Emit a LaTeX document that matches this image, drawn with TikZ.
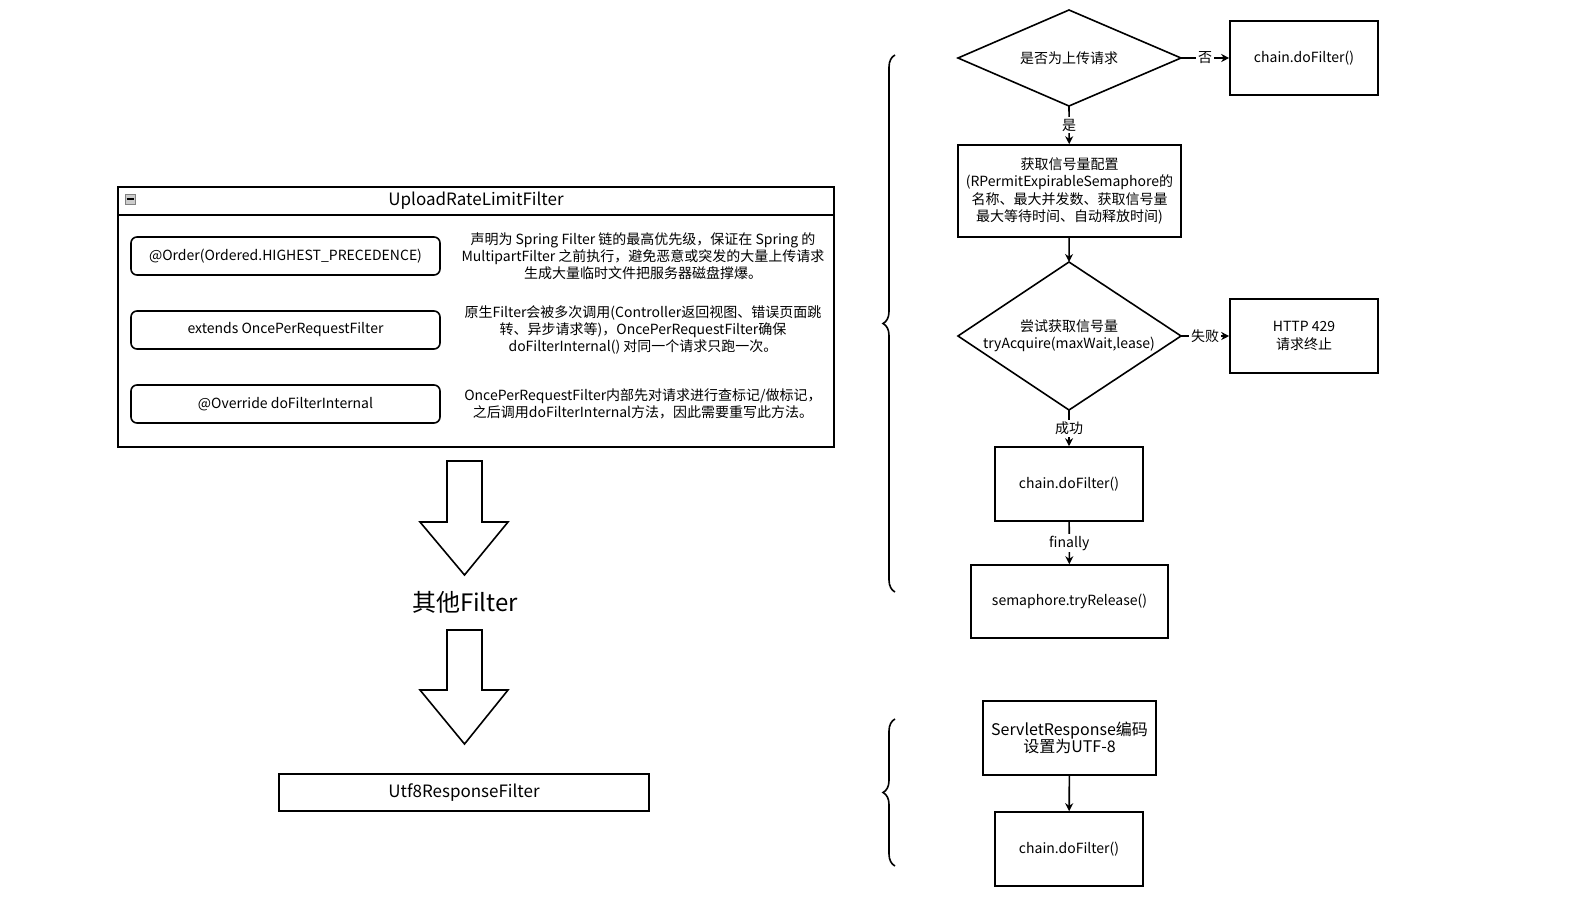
\documentclass[tikz,border=0pt]{standalone}
\usepackage{fontspec}
\setmainfont{Noto Sans CJK SC}
\XeTeXlinebreaklocale "zh"
\usetikzlibrary{arrows.meta,decorations.pathreplacing}
\tikzset{
  every node/.style={font=\fontsize{7}{8.6}\selectfont},
  flowbox/.style={draw,thick,inner sep=0pt},
  rbox/.style={draw,thick,rounded corners=3pt},
  flow/.style={thick,-{Stealth[length=4pt,width=4pt]}},
  lbl/.style={fill=white,inner sep=1pt},
  hollow/.style={draw,thick,fill=white},
  bracebig/.style={thick,decorate,decoration={brace,amplitude=6pt}}
}
\begin{document}
\begin{tikzpicture}[x=0.5pt,y=-0.5pt]
\useasboundingbox (0,0) rectangle (1588,905);
% left container
\draw[very thick] (118,187) rectangle (834,447);
\draw[very thick] (118,215) -- (834,215);
\draw[fill=gray!40,draw=gray] (125,194) rectangle (135,204);
\draw[thick] (126.5,199) -- (133.5,199);
\node (title) at (476,201) {\fontsize{8.5}{10}\selectfont UploadRateLimitFilter};
\node (order) [rbox,minimum width=154.5pt,minimum height=19pt] at (285.5,256) {@Order(Ordered.HIGHEST\_PRECEDENCE)};
\node (ext) [rbox,minimum width=154.5pt,minimum height=19pt] at (285.5,330) {extends OncePerRequestFilter};
\node (ovr) [rbox,minimum width=154.5pt,minimum height=19pt] at (285.5,404) {@Override doFilterInternal};
\node (d1) [align=center] at (643,256) {声明为 Spring Filter 链的最高优先级，保证在 Spring 的\\MultipartFilter 之前执行，避免恶意或突发的大量上传请求\\生成大量临时文件把服务器磁盘撑爆。};
\node (d2) [align=center] at (643,330) {原生Filter会被多次调用(Controller返回视图、错误页面跳\\转、异步请求等)，OncePerRequestFilter确保\\doFilterInternal() 对同一个请求只跑一次。};
\node (d3) [align=center] at (643,404) {OncePerRequestFilter内部先对请求进行查标记/做标记，\\之后调用doFilterInternal方法，因此需要重写此方法。};
% hollow arrows
\draw[hollow] (447,461) -- (482,461) -- (482,522) -- (508,522) -- (464.5,575) -- (420,522) -- (447,522) -- cycle;
\node (other) at (465,602) {\fontsize{12}{14}\selectfont 其他Filter};
\draw[hollow] (447,630) -- (482,630) -- (482,690) -- (508,690) -- (464.5,744) -- (420,690) -- (447,690) -- cycle;
\node (utf) [draw,very thick,minimum width=185pt,minimum height=18.5pt] at (464,792.5) {\fontsize{8.5}{10}\selectfont Utf8ResponseFilter};
% braces
\draw[bracebig] (895,592) -- (895,55);
\draw[bracebig] (895,866) -- (895,719);
% upload flow
\draw[thick] (958,58) -- (1069,10) -- (1181,58) -- (1069,106) -- cycle;
\node (isup) at (1069,58) {是否为上传请求};
\coordinate (isupE) at (1181,58);
\coordinate (isupS) at (1069,106);
\node (chain1) [flowbox,minimum width=74pt,minimum height=37pt] at (1304,58) {chain.doFilter()};
\node (cfg) [flowbox,minimum width=111.5pt,minimum height=46pt,align=center] at (1069.5,191) {获取信号量配置\\(RPermitExpirableSemaphore的\\名称、最大并发数、获取信号量\\最大等待时间、自动释放时间)};
\draw[thick] (958,336) -- (1069,262) -- (1181,336) -- (1069,410) -- cycle;
\node (acq) [align=center] at (1069,336) {尝试获取信号量\\tryAcquire(maxWait,lease)};
\coordinate (acqN) at (1069,262);
\coordinate (acqE) at (1181,336);
\coordinate (acqS) at (1069,410);
\node (http) [flowbox,minimum width=74pt,minimum height=37pt,align=center] at (1304,336) {HTTP 429\\请求终止};
\node (chain2) [flowbox,minimum width=74pt,minimum height=37pt] at (1069,484) {chain.doFilter()};
\node (rel) [flowbox,minimum width=98.5pt,minimum height=36.5pt] at (1069.5,601.5) {semaphore.tryRelease()};
\draw[flow] (isupE) -- node[lbl] {否} (chain1);
\draw[flow] (isupS) -- node[lbl] {是} (cfg);
\draw[flow] (cfg) -- (acqN);
\draw[flow] (acqE) -- node[lbl] {失败} (http);
\draw[flow] (acqS) -- node[lbl] {成功} (chain2);
\draw[flow] (chain2) -- node[lbl] {finally} (rel);
% utf8 flow
\node (enc) [flowbox,minimum width=86.5pt,minimum height=37pt,align=center] at (1069.5,738) {\fontsize{8}{9.5}\selectfont ServletResponse编码\\\fontsize{8}{9.5}\selectfont 设置为UTF-8};
\node (chain3) [flowbox,minimum width=74pt,minimum height=37pt] at (1069,849) {chain.doFilter()};
\draw[flow] (enc) -- (chain3);
\end{tikzpicture}
\end{document}
